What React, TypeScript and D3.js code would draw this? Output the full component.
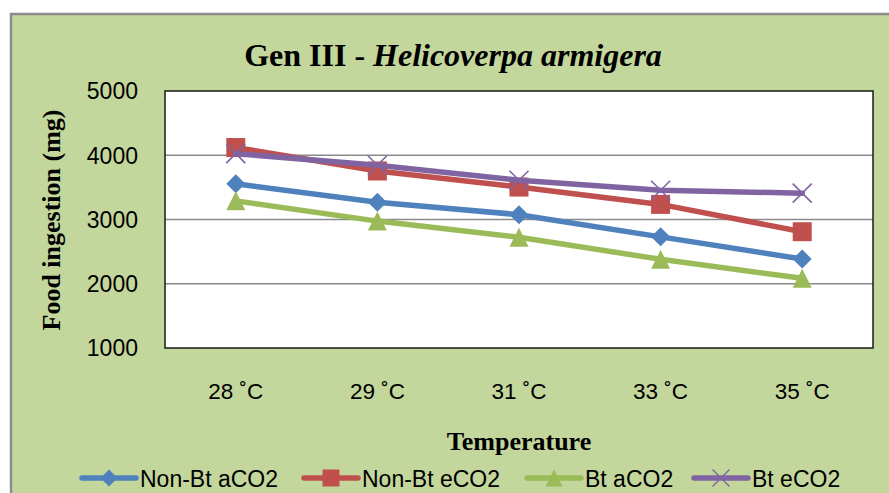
import React from "react";
import * as d3 from "d3";

const categories = ["28 ˚C", "29 ˚C", "31 ˚C", "33 ˚C", "35 ˚C"];
const nonBtACO2 = [3555, 3270, 3075, 2730, 2385];
const nonBtECO2 = [4120, 3755, 3505, 3235, 2810];
const btACO2 = [3290, 2975, 2725, 2380, 2085];
const btECO2 = [4025, 3845, 3610, 3455, 3410];
const yTicks = [1000, 2000, 3000, 4000, 5000];
const seriesNames = ["Non-Bt aCO2", "Non-Bt eCO2", "Bt aCO2", "Bt eCO2"];

const W = 889;
const H = 493;
const plot = { left: 165, top: 91, right: 873, bottom: 348 };

type Shape = "diamond" | "square" | "triangle" | "x";

function markerPath(shape: Shape, cx: number, cy: number, s: number): string {
  const p = d3.path();
  const h = s / 2;
  if (shape === "diamond") {
    p.moveTo(cx, cy - h);
    p.lineTo(cx + h, cy);
    p.lineTo(cx, cy + h);
    p.lineTo(cx - h, cy);
    p.closePath();
  } else if (shape === "square") {
    p.rect(cx - h, cy - h, s, s);
  } else if (shape === "triangle") {
    p.moveTo(cx, cy - h);
    p.lineTo(cx + h, cy + h);
    p.lineTo(cx - h, cy + h);
    p.closePath();
  } else {
    p.moveTo(cx - h, cy - h);
    p.lineTo(cx + h, cy + h);
    p.moveTo(cx + h, cy - h);
    p.lineTo(cx - h, cy + h);
  }
  return p.toString();
}

const series = [
  { name: seriesNames[0], values: nonBtACO2, color: "#4F81BD", shape: "diamond" as Shape, size: 19 },
  { name: seriesNames[1], values: nonBtECO2, color: "#C0504D", shape: "square" as Shape, size: 19 },
  { name: seriesNames[2], values: btACO2, color: "#9BBB59", shape: "triangle" as Shape, size: 19 },
  { name: seriesNames[3], values: btECO2, color: "#8064A2", shape: "x" as Shape, size: 19 },
];

const legendX = [82, 304, 527, 694];

export default function App() {
  const x = d3
    .scalePoint<string>()
    .domain(categories)
    .range([plot.left, plot.right])
    .padding(0.5);
  const y = d3.scaleLinear().domain([1000, 5000]).range([plot.bottom, plot.top]);
  const line = d3
    .line<number>()
    .x((_, i) => x(categories[i]) as number)
    .y((d) => y(d));

  const sans = "'Liberation Sans', Arial, sans-serif";
  const serif = "'Liberation Serif', 'Times New Roman', serif";

  return (
    <div style={{ position: "absolute", left: 0, top: 0 }}>
      <svg width={W} height={H} style={{ display: "block" }}>
        <rect x={0} y={0} width={W} height={H} fill="#ffffff" />
        <rect x={11} y={14} width={W + 20} height={H + 20} fill="#C3D69B" stroke="#8c8c8c" strokeWidth={2.5} />
        <text x={453} y={66} textAnchor="middle" fontFamily={serif} fontSize={32} fontWeight="bold" fill="#000">
          Gen III - <tspan fontStyle="italic">Helicoverpa armigera</tspan>
        </text>
        <rect
          x={plot.left}
          y={plot.top}
          width={plot.right - plot.left}
          height={plot.bottom - plot.top}
          fill="#ffffff"
        />
        {yTicks
          .filter((t) => t !== 1000 && t !== 5000)
          .map((t) => (
            <line key={t} x1={plot.left} x2={plot.right} y1={y(t)} y2={y(t)} stroke="#8a8a8a" strokeWidth={1.6} />
          ))}
        <rect
          x={plot.left}
          y={plot.top}
          width={plot.right - plot.left}
          height={plot.bottom - plot.top}
          fill="none"
          stroke="#1a1a1a"
          strokeWidth={1.5}
        />
        {yTicks.map((t) => (
          <text key={t} x={138} y={y(t) + 8.3} textAnchor="end" fontFamily={sans} fontSize={23} fill="#000">
            {t}
          </text>
        ))}
        {categories.map((c) => (
          <text key={c} x={x(c) as number} y={399} textAnchor="middle" fontFamily={sans} fontSize={22.5} fill="#000">
            {c}
          </text>
        ))}
        <text
          transform="translate(60,220) rotate(-90)"
          textAnchor="middle"
          fontFamily={serif}
          fontSize={26}
          fontWeight="bold"
          fill="#000"
        >
          Food ingestion (mg)
        </text>
        <text x={519} y={450} textAnchor="middle" fontFamily={serif} fontSize={26} fontWeight="bold" fill="#000">
          Temperature
        </text>
        {series.map((s) => (
          <g key={s.name}>
            <path d={line(s.values) || ""} fill="none" stroke={s.color} strokeWidth={5.5} strokeLinejoin="round" strokeLinecap="round" />
            {s.values.map((v, i) => (
              <path
                key={i}
                d={markerPath(s.shape, x(categories[i]) as number, y(v), s.size)}
                fill={s.shape === "x" ? "none" : s.color}
                stroke={s.color}
                strokeWidth={s.shape === "x" ? 1.6 : 0}
              />
            ))}
          </g>
        ))}
        {series.map((s, i) => (
          <g key={"leg" + s.name}>
            <line x1={legendX[i]} x2={legendX[i] + 54} y1={478} y2={478} stroke={s.color} strokeWidth={5.5} strokeLinecap="round" />
            <path
              d={markerPath(s.shape, legendX[i] + 27, 478, 17)}
              fill={s.shape === "x" ? "none" : s.color}
              stroke={s.color}
              strokeWidth={s.shape === "x" ? 1.4 : 0}
            />
            <text x={legendX[i] + 58} y={487} fontFamily={sans} fontSize={23} fill="#000">
              {s.name}
            </text>
          </g>
        ))}
      </svg>
    </div>
  );
}
